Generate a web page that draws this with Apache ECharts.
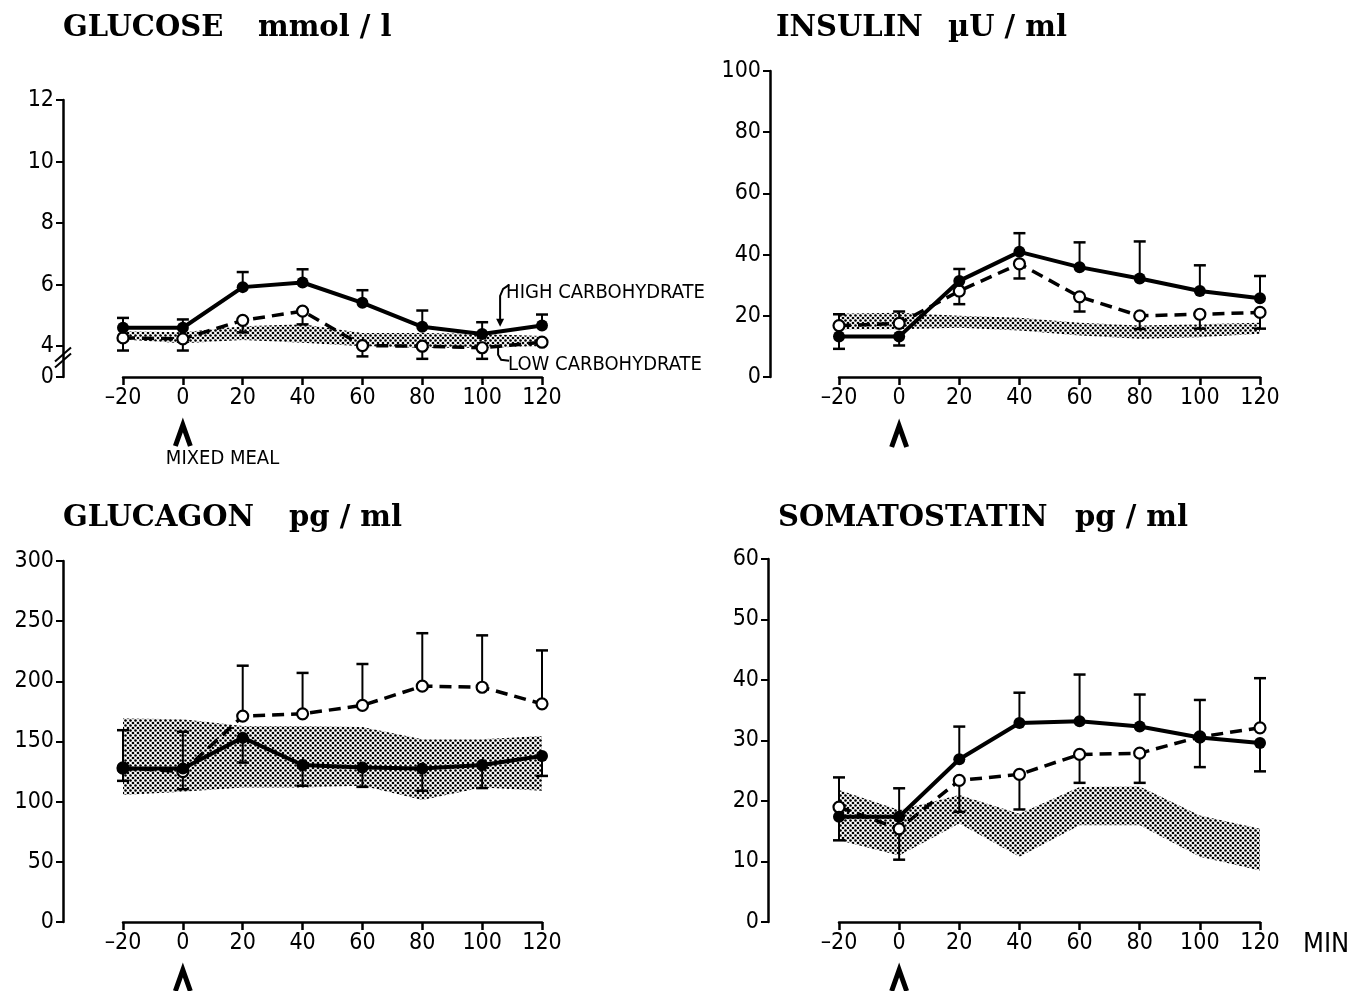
<!DOCTYPE html>
<html><head><meta charset="utf-8">
<script src="https://cdn.jsdelivr.net/npm/echarts@6/dist/echarts.min.js"></script>
<style>html,body{margin:0;padding:0;background:#fff}#c{width:1356px;height:991px}</style>
</head><body><div id="c"></div>
<script>
// ---------- data ----------
const times = [-20, 0, 20, 40, 60, 80, 100, 120];

const glucoseHigh    = [4.60, 4.60, 5.92, 6.07, 5.41, 4.63, 4.40, 4.67];
const glucoseHighErr = [4.92, 4.87, 6.41, 6.50, 5.82, 5.16, 4.78, 5.03];
const glucoseLow     = [4.27, 4.24, 4.84, 5.14, 4.02, 4.00, 3.95, 4.13];
const glucoseLowErr  = [3.86, 3.86, 4.45, 4.71, 3.67, 3.59, 3.59, null];
const glucoseBandUp  = [4.49, 4.45, 4.65, 4.71, 4.43, 4.43, 4.40, 4.33];
const glucoseBandLo  = [4.22, 4.10, 4.20, 4.11, 4.00, 3.95, 3.95, 4.00];
const glucoseTicks   = [3, 4, 6, 8, 10, 12];

const insulinHigh    = [13.2, 13.2, 31.4, 40.9, 35.9, 32.2, 28.1, 25.7];
const insulinHighErr = [9.2, 10.3, 35.3, 47.0, 44.0, 44.3, 36.5, 33.0];
const insulinLow     = [16.8, 17.5, 28.1, 37.0, 26.2, 20.0, 20.5, 21.1];
const insulinLowErr  = [20.5, 21.4, 23.8, 32.2, 21.4, 15.7, 15.8, 15.8];
const insulinBandUp  = [20.7, 21.0, 20.0, 19.4, 17.7, 16.8, 17.2, 17.7];
const insulinBandLo  = [15.6, 15.6, 16.1, 15.2, 13.6, 12.5, 13.0, 14.1];

const glucagonHigh    = [127.5, 127.5, 153.2, 130.5, 128.3, 127.5, 130.5, 138.0];
const glucagonHighErr = [117.3, 110.4, 132.5, 113.2, 112.3, 109.0, 111.3, 121.4];
const glucagonLow     = [128, 125, 171.1, 173, 180, 196, 195.1, 181.3];
const glucagonLowErr  = [159.4, 158.1, 213, 207, 214.4, 240, 238.2, 225.7];
const glucagonBandUp  = [169.2, 168.5, 162.8, 162.8, 162, 151.8, 151.8, 154.6];
const glucagonBandLo  = [105.5, 108.2, 111.8, 111.8, 113.2, 101.3, 111.8, 109];

const somaHigh    = [17.4, 17.4, 26.9, 32.9, 33.2, 32.3, 30.5, 29.6];
const somaHighErr = [13.5, 22.1, 32.3, 37.9, 40.9, 37.6, 25.6, 24.9];
const somaLow     = [19.0, 15.4, 23.4, 24.4, 27.7, 27.9, 30.6, 32.1];
const somaLowErr  = [23.9, 10.3, 18.2, 18.6, 23.0, 23.0, 36.7, 40.3];
const somaBandUp  = [21.8, 18.5, 21.0, 17.9, 22.3, 22.4, 17.6, 15.4];
const somaBandLo  = [13.5, 11.0, 16.3, 10.8, 16.0, 16.0, 10.8, 8.5];

const titles = [
  ['GLUCOSE', 'mmol / l'],
  ['INSULIN', '\u00b5U / ml'],
  ['GLUCAGON', 'pg / ml'],
  ['SOMATOSTATIN', 'pg / ml']
];
const labelHigh = 'HIGH CARBOHYDRATE';
const labelLow = 'LOW CARBOHYDRATE';
const labelMeal = 'MIXED MEAL';
const labelMin = 'MIN';

// ---------- styling ----------
const NARROW = '"Liberation Sans Narrow", "DejaVu Sans Condensed", "Roboto", sans-serif';
const SERIF = '"DejaVu Serif", "Liberation Serif", serif';

const pc = document.createElement('canvas');
pc.width = 5; pc.height = 5;
const pctx = pc.getContext('2d');
pctx.fillStyle = '#000';
[[0.5, 0.5], [3, 3], [5.5, 0.5], [0.5, 5.5], [5.5, 5.5]].forEach(d => {
  pctx.beginPath(); pctx.arc(d[0], d[1], 1.35, 0, Math.PI * 2); pctx.fill();
});
const stipple = { image: pc, repeat: 'repeat' };

const panels = [
  { grid: { left: 123, top: 100, width: 419, height: 277 }, y: { min: 3, max: 12, interval: 1, offset: 60, custom: glucoseTicks },
    high: glucoseHigh, highErr: glucoseHighErr, low: glucoseLow, lowErr: glucoseLowErr, up: glucoseBandUp, lo: glucoseBandLo },
  { grid: { left: 839, top: 71, width: 421, height: 306 }, y: { min: 0, max: 100, interval: 20, offset: 69 },
    high: insulinHigh, highErr: insulinHighErr, low: insulinLow, lowErr: insulinLowErr, up: insulinBandUp, lo: insulinBandLo },
  { grid: { left: 123, top: 561, width: 419, height: 361 }, y: { min: 0, max: 300, interval: 50, offset: 60 },
    high: glucagonHigh, highErr: glucagonHighErr, low: glucagonLow, lowErr: glucagonLowErr, up: glucagonBandUp, lo: glucagonBandLo },
  { grid: { left: 839, top: 559, width: 421, height: 363 }, y: { min: 0, max: 60, interval: 10, offset: 71 },
    high: somaHigh, highErr: somaHighErr, low: somaLow, lowErr: somaLowErr, up: somaBandUp, lo: somaBandLo }
];

const grids = [], xAxes = [], yAxes = [], series = [];

panels.forEach((p, i) => {
  grids.push(Object.assign({ outerBoundsMode: 'none', containLabel: false }, p.grid));
  xAxes.push({
    type: 'value', gridIndex: i, min: -20, max: 120, interval: 20,
    axisLine: { show: true, onZero: false, lineStyle: { color: '#000', width: 2.5 } },
    axisTick: { show: true, length: 8, lineStyle: { color: '#000', width: 2.5 } },
    axisLabel: { color: '#000', fontSize: 23, fontFamily: NARROW, margin: 10,
      formatter: v => (v < 0 ? '\u2013' + Math.abs(v) : String(v)) },
    splitLine: { show: false }
  });
  const ya = {
    type: 'value', gridIndex: i, min: p.y.min, max: p.y.max, interval: p.y.interval, offset: p.y.offset,
    axisLine: { show: true, onZero: false, lineStyle: { color: '#000', width: 2.5 } },
    axisTick: { show: true, length: 7, lineStyle: { color: '#000', width: 2 } },
    axisLabel: { color: '#000', fontSize: 23, fontFamily: NARROW, margin: 9 },
    splitLine: { show: false }
  };
  if (p.y.custom) {
    ya.axisTick.customValues = p.y.custom;
    ya.axisLabel.customValues = p.y.custom;
    ya.axisLabel.formatter = v => (v === p.y.min ? '0' : String(v));
  }
  yAxes.push(ya);

  // shaded band
  series.push({
    type: 'custom', xAxisIndex: i, yAxisIndex: i, z: 1, silent: true, clip: false,
    data: times.map((t, k) => [t, p.up[k], p.lo[k]]),
    renderItem: (params, api) => {
      if (params.dataIndex !== 0) return null;
      const pts = [];
      times.forEach((t, k) => pts.push(api.coord([t, p.up[k]])));
      for (let k = times.length - 1; k >= 0; k--) pts.push(api.coord([times[k], p.lo[k]]));
      return { type: 'polygon', shape: { points: pts }, style: { fill: stipple, stroke: null } };
    }
  });

  // error bars
  const errSeries = (mean, err, z) => ({
    type: 'custom', xAxisIndex: i, yAxisIndex: i, z: z, silent: true, clip: false,
    data: times.map((t, k) => [t, mean[k], err[k]]).filter(d => d[2] !== null),
    renderItem: (params, api) => {
      const a = api.coord([api.value(0), api.value(1)]);
      const b = api.coord([api.value(0), api.value(2)]);
      return { type: 'group', children: [
        { type: 'line', shape: { x1: a[0], y1: a[1], x2: b[0], y2: b[1] }, style: { stroke: '#000', lineWidth: 2 } },
        { type: 'line', shape: { x1: b[0] - 6, y1: b[1], x2: b[0] + 6, y2: b[1] }, style: { stroke: '#000', lineWidth: 2.5 } }
      ] };
    }
  });
  series.push(errSeries(p.high, p.highErr, 2));
  series.push(errSeries(p.low, p.lowErr, 2));

  series.push({
    type: 'line', xAxisIndex: i, yAxisIndex: i, z: 3, clip: false, silent: true,
    data: times.map((t, k) => [t, p.low[k]]),
    lineStyle: { color: '#000', width: 3.5, type: [12, 7] },
    symbol: 'circle', symbolSize: 11,
    itemStyle: { color: '#fff', borderColor: '#000', borderWidth: 2.2 }
  });
  series.push({
    type: 'line', xAxisIndex: i, yAxisIndex: i, z: 4, clip: false, silent: true,
    data: times.map((t, k) => [t, p.high[k]]),
    lineStyle: { color: '#000', width: 4 },
    symbol: 'circle', symbolSize: 12,
    itemStyle: { color: '#000' }
  });
});

const titleOpts = [];
const titlePos = [[63, 14, 258], [776, 14, 948], [63, 504, 289], [778, 504, 1075]];
titles.forEach((t, i) => {
  titleOpts.push({ text: t[0], left: titlePos[i][0], top: titlePos[i][1], padding: 0,
    textStyle: { fontFamily: SERIF, fontWeight: 'bold', fontSize: 29, color: '#000' } });
  titleOpts.push({ text: t[1], left: titlePos[i][2], top: titlePos[i][1], padding: 0,
    textStyle: { fontFamily: SERIF, fontWeight: 'bold', fontSize: 29, color: '#000' } });
});

const chart = echarts.init(document.getElementById('c'), null, { renderer: 'canvas' });
chart.setOption({
  animation: false,
  backgroundColor: '#fff',
  title: titleOpts,
  grid: grids, xAxis: xAxes, yAxis: yAxes, series: series
});

// ---------- annotations positioned from the axes ----------
const px = (g, v) => chart.convertToPixel({ gridIndex: g }, v);
const graphics = [];
const caret = (pt) => ({
  type: 'polyline', shape: { points: [[pt[0] - 7.5, pt[1] + 70], [pt[0], pt[1] + 49], [pt[0] + 7.5, pt[1] + 70]] },
  style: { stroke: '#000', lineWidth: 5, fill: null }
});
const zeroTL = px(0, [0, 3]);
const zeroTR = px(1, [0, 0]);
const zeroBL = px(2, [0, 0]);
const zeroBR = px(3, [0, 0]);
graphics.push(caret([zeroTL[0], zeroTL[1] - 1]));
graphics.push(caret(zeroTR));
graphics.push(caret([zeroBL[0], zeroBL[1] - 1]));
graphics.push(caret([zeroBR[0], zeroBR[1] - 1]));
graphics.push({ type: 'text', x: zeroTL[0] - 17, y: zeroTL[1] + 82,
  style: { text: labelMeal, font: '20px ' + NARROW, fill: '#000', textVerticalAlign: 'middle' } });
const endBR = px(3, [120, 0]);
graphics.push({ type: 'text', x: endBR[0] + 43, y: endBR[1] + 23,
  style: { text: labelMin, font: '27px ' + NARROW, fill: '#000', textVerticalAlign: 'middle' } });

// axis break on glucose y-axis
const br = px(0, [-20, 3.5]);
const axX = br[0] - 60;
graphics.push({ type: 'rect', shape: { x: axX - 3, y: br[1] - 6, width: 6, height: 11 }, style: { fill: '#fff' } });
graphics.push({ type: 'line', shape: { x1: axX - 8, y1: br[1] + 0, x2: axX + 8, y2: br[1] - 14 }, style: { stroke: '#000', lineWidth: 2 } });
graphics.push({ type: 'line', shape: { x1: axX - 8, y1: br[1] + 6, x2: axX + 8, y2: br[1] - 8 }, style: { stroke: '#000', lineWidth: 2 } });

// HIGH / LOW leader labels
const hp = px(0, [105, 4.5]);
graphics.push({ type: 'text', x: hp[0] + 9, y: hp[1] - 38,
  style: { text: labelHigh, font: '20px ' + NARROW, fill: '#000', textVerticalAlign: 'middle' } });
graphics.push({ type: 'polyline', shape: { points: [[hp[0] + 12, hp[1] - 46], [hp[0] + 6, hp[1] - 42], [hp[0] + 3, hp[1] - 35], [hp[0] + 3, hp[1] - 10]] },
  style: { stroke: '#000', lineWidth: 2, fill: null } });
graphics.push({ type: 'polygon', shape: { points: [[hp[0] - 1, hp[1] - 12], [hp[0] + 7, hp[1] - 12], [hp[0] + 3, hp[1] - 4]] }, style: { fill: '#000' } });
const lp = px(0, [105, 3.95]);
graphics.push({ type: 'text', x: lp[0] + 11, y: lp[1] + 17,
  style: { text: labelLow, font: '20px ' + NARROW, fill: '#000', textVerticalAlign: 'middle' } });
graphics.push({ type: 'polyline', shape: { points: [[lp[0] + 12, lp[1] + 13], [lp[0] + 4, lp[1] + 12], [lp[0] + 1, lp[1] + 7], [lp[0] + 1, lp[1] - 2]] },
  style: { stroke: '#000', lineWidth: 2, fill: null } });

chart.setOption({ graphic: graphics });
</script>
</body></html>
